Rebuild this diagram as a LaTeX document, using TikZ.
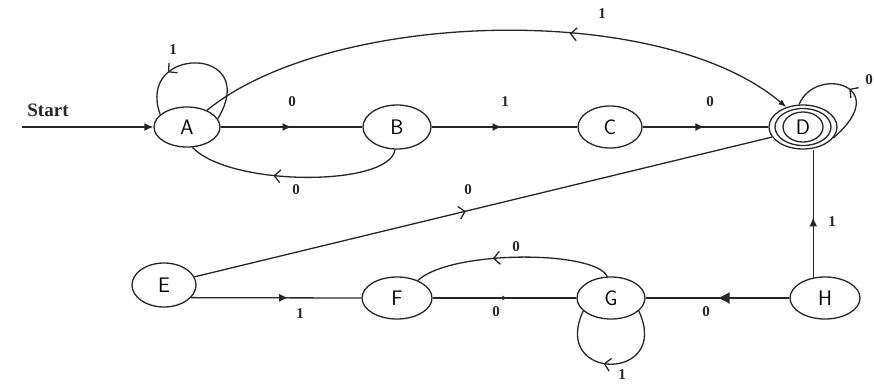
\documentclass[tikz,border=0pt]{standalone}
\usepackage{fontspec}
\setmainfont{Liberation Serif}
\usetikzlibrary{shapes.geometric,arrows.meta,decorations.markings}
\tikzset{
  st/.style={draw=black!85, ellipse, line width=1.3pt, inner sep=0pt,
    font=\sffamily\fontsize{21}{21}\selectfont},
  edge/.style={draw=black!85, line width=1.3pt},
  lbl/.style={inner sep=0pt, font=\bfseries\fontsize{15}{15}\selectfont, text=black!85},
  midtri/.style={postaction={decorate}, decoration={markings,
    mark=at position #1 with {\arrow{Latex[length=9pt,width=8pt]}}}},
  midbarb/.style={postaction={decorate}, decoration={markings,
    mark=at position #1 with {\arrow{Straight Barb[length=6pt,width=13pt,line width=1.3pt]}}}},
  midbarbrev/.style={postaction={decorate}, decoration={markings,
    mark=at position #1 with {\arrowreversed{Straight Barb[length=6pt,width=13pt,line width=1.3pt]}}}},
}
\begin{document}
\begin{tikzpicture}[x=1pt,y=-1pt]
\useasboundingbox (0,0) rectangle (874,385);
% states
\node[st, minimum width=66pt, minimum height=40pt] (A) at (187,127) {A};
\node[st, minimum width=68pt, minimum height=44pt] (B) at (397,127) {B};
\node[st, minimum width=64pt, minimum height=42pt] (C) at (610,127) {C};
\node[st, minimum width=68pt, minimum height=44pt] (D) at (803,127) {D};
\draw[edge] (D.center) ellipse [x radius=28, y radius=18.5];
\draw[edge] (D.center) ellipse [x radius=20, y radius=15];
\node[st, minimum width=64pt, minimum height=44pt] (E) at (164,285) {E};
\node[st, minimum width=70pt, minimum height=42pt] (F) at (397,298) {F};
\node[st, minimum width=68pt, minimum height=42pt] (G) at (611,298) {G};
\node[st, minimum width=70pt, minimum height=42pt] (H) at (825,298) {H};
% start
\coordinate (s0) at (22,127);
\node[inner sep=0pt, font=\bfseries\fontsize{19}{19}\selectfont, text=black!85] (start) at (48,110) {Start};
\draw[edge, -{Latex[length=9pt,width=8pt]}] (s0) -- (A.west);
% straight edges
\draw[edge, midtri=0.5] (A.east) -- (B.west);
\draw[edge, midtri=0.48] (B.east) -- (C.west);
\draw[edge, midtri=0.49] (C.east) -- (D.west);
\draw[edge, midtri=0.57] (E.-25) -- (F.west);
\draw[edge, postaction={decorate}, decoration={markings,
    mark=at position 0.52 with {\arrow{Latex[length=5pt,width=5pt]}}}] (F.east) -- (G.west);
\draw[edge, postaction={decorate}, decoration={markings,
    mark=at position 0.5 with {\arrow{Latex[length=12pt,width=12pt]}}}] (H.west) -- (G.east);
\draw[edge, midtri=0.47] (H.120) -- (H.120 |- D.south);
\draw[edge, midbarb=0.47] (E.15) -- (D.198);
% curved edges
\draw[edge, midbarbrev=0.3] (A.155) .. controls (135,45) and (262,45) .. (A.15);
\draw[edge, midbarbrev=0.62, -{Latex[length=8pt,width=6pt]}] (A.40) .. controls (330,10) and (660,0) .. (D.130);
\draw[edge, midbarb=0.6] (B.265) .. controls (390,187) and (230,187) .. (A.285);
\draw[edge, midbarbrev=0.5] (D.100) .. controls (815,65) and (895,85) .. (D.-20);
\draw[edge, midbarb=0.6] (G.100) .. controls (595,250) and (450,250) .. (F.40);
\draw[edge, midbarb=0.55] (G.-25) .. controls (672,382) and (550,382) .. (G.205);
% labels
\node[lbl] (l1) at (292,102) {0};
\node[lbl] (l2) at (505,102) {1};
\node[lbl] (l3) at (710,102) {0};
\node[lbl] (l4) at (173,50) {1};
\node[lbl] (l5) at (602,14) {1};
\node[lbl] (l6) at (296,190) {0};
\node[lbl] (l7) at (869,80) {0};
\node[lbl] (l8) at (468,190) {0};
\node[lbl] (l9) at (300,314) {1};
\node[lbl] (l10) at (496,312) {0};
\node[lbl] (l11) at (516,247) {0};
\node[lbl] (l12) at (622,375) {1};
\node[lbl] (l13) at (706,312) {0};
\node[lbl] (l14) at (832,222) {1};
\end{tikzpicture}
\end{document}
